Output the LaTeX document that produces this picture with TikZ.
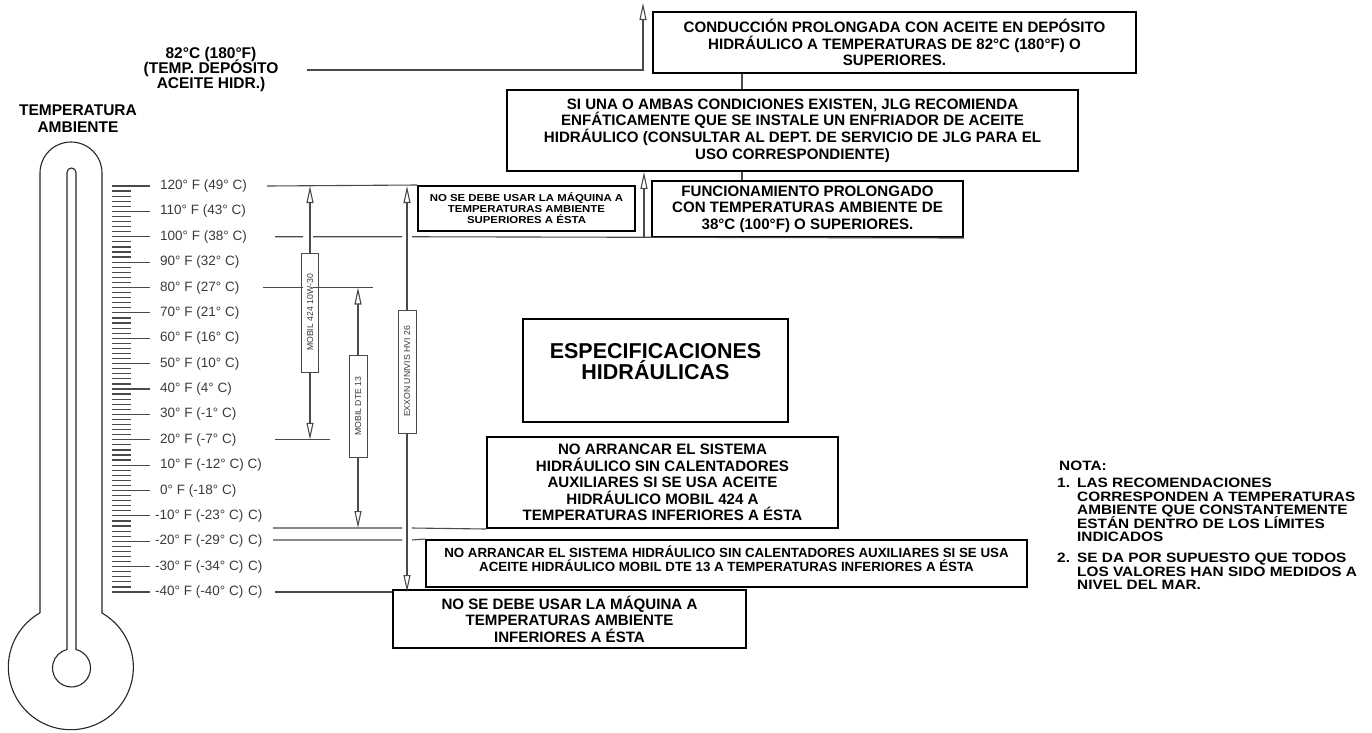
\documentclass[tikz,border=0pt]{standalone}
\usepackage{fontspec}
\setmainfont{Liberation Sans}
\newfontfamily\hb{Liberation Sans Bold}
\newfontfamily\hbs[FakeStretch=1.13]{Liberation Sans Bold}
\newfontfamily\hr{Liberation Sans}
\usetikzlibrary{arrows.meta,calc}
\definecolor{ink}{HTML}{3A3A3A}
\definecolor{lin}{HTML}{4A4A4A}
\begin{document}
\lineskiplimit=-100pt
\begin{tikzpicture}[x=1pt,y=-1pt,
 box/.style={draw=black,line width=2pt,inner sep=0pt,align=center,font=\hb\fontsize{15.1}{16.6}\selectfont},
 thin/.style={draw=lin,line width=1.1pt},
 arr/.style={thin,-{Triangle[open,length=17pt,width=7pt]}},
 tick/.style={draw=lin,line width=1.2pt},
 tlab/.style={anchor=west,inner sep=0pt,text=ink,font=\hr\fontsize{13.5}{14}\selectfont},
 oil/.style={draw=lin,line width=1pt,fill=white,rotate=90,inner sep=0pt,font=\hr\fontsize{8.7}{9}\selectfont,text=ink},
 hd/.style={align=center,inner sep=0pt,font=\hb\fontsize{15.5}{15}\selectfont},
 nota/.style={inner sep=0pt,anchor=west,align=left,font=\hbs\fontsize{13.6}{13.4}\selectfont},
]
\useasboundingbox (0,0) rectangle (1372,732);

% ---------------- thermometer ----------------
\draw[line width=1.1pt,draw=black!85] (40,613) -- (40,173) arc (180:360:31) -- (102,613) arc (-60.1:240.1:62.5);
\draw[line width=1.1pt,draw=black!85] (67,649.5) -- (67,172.5) arc (180:360:4.5) -- (76,649.5) arc (-76.3:256.3:19);

\foreach \i in {0,...,80}{
  \pgfmathsetmacro\yy{186+\i*5.075}
  \pgfmathtruncatemacro\m{mod(\i,5)}
  \ifnum\m=0 \draw[tick] (112,\yy) -- (150,\yy); \else \draw[tick] (112,\yy) -- (131,\yy); \fi
}

\node[hd,font=\hb\fontsize{15.5}{16.7}\selectfont] (amb) at (78,119) {TEMPERATURA\\AMBIENTE};
\node[hd] (t82) at (211,69.5) {82°C (180°F)\\(TEMP. DEPÓSITO\\ACEITE HIDR.)};

\foreach \k/\t in {0/{120° F (49° C)},1/{110° F (43° C)},2/{100° F (38° C)},3/{90° F (32° C)},
  4/{80° F (27° C)},5/{70° F (21° C)},6/{60° F (16° C)},7/{50° F (10° C)},8/{40° F (4° C)},
  9/{30° F (-1° C)},10/{20° F (-7° C)},11/{10° F (-12° C) C)},12/{0° F (-18° C)}}{
  \node[tlab] (L\k) at (160,186+\k*25.375) {\t};
}
\foreach \k/\t in {13/{-10° F (-23° C)},14/{-20° F (-29° C)},15/{-30° F (-34° C)},16/{-40° F (-40° C)}}{
  \node[tlab] (L\k) at (155,186+\k*25.375) {\t};
  \node[tlab] (X\k) at (248,186+\k*25.375) {C)};
}

% ---------------- boxes ----------------
\node[box,minimum width=483,minimum height=61] (cond) at (894.5,42.5)
  {CONDUCCIÓN PROLONGADA CON ACEITE EN DEPÓSITO\\HIDRÁULICO A TEMPERATURAS DE 82°C (180°F) O\\SUPERIORES.};
\node[box,minimum width=571,minimum height=81] (siuna) at (792.5,130.5)
  {SI UNA O AMBAS CONDICIONES EXISTEN, JLG RECOMIENDA\\ENFÁTICAMENTE QUE SE INSTALE UN ENFRIADOR DE ACEITE\\HIDRÁULICO (CONSULTAR AL DEPT. DE SERVICIO DE JLG PARA EL\\USO CORRESPONDIENTE)};
\node[box,minimum width=311,minimum height=56] (fun) at (807.5,209)
  {FUNCIONAMIENTO PROLONGADO\\CON TEMPERATURAS AMBIENTE DE\\38°C (100°F) O SUPERIORES.};
\node[box,minimum width=217,minimum height=45,font=\hbs\fontsize{10.1}{11}\selectfont] (noseS) at (526.5,208.5)
  {NO SE DEBE USAR LA MÁQUINA A\\TEMPERATURAS AMBIENTE\\SUPERIORES A ÉSTA};
\node[box,minimum width=265,minimum height=103] (espec) at (655.5,370.5) {};
\node[align=center,inner sep=0pt,font=\hb\fontsize{21.5}{21}\selectfont] (espect) at (655.5,362) {ESPECIFICACIONES\\HIDRÁULICAS};
\node[box,minimum width=351,minimum height=91] (noarr) at (662.5,482.5)
  {NO ARRANCAR EL SISTEMA\\HIDRÁULICO SIN CALENTADORES\\AUXILIARES SI SE USA ACEITE\\HIDRÁULICO MOBIL 424 A\\TEMPERATURAS INFERIORES A ÉSTA};
\node[box,minimum width=601,minimum height=47,font=\hb\fontsize{13.3}{14}\selectfont] (dte) at (726.5,563.5)
  {NO ARRANCAR EL SISTEMA HIDRÁULICO SIN CALENTADORES AUXILIARES SI SE USA\\ACEITE HIDRÁULICO MOBIL DTE 13 A TEMPERATURAS INFERIORES A ÉSTA\\[-5pt]};
\node[box,minimum width=353,minimum height=58] (noseI) at (569.5,619)
  {NO SE DEBE USAR LA MÁQUINA A\\TEMPERATURAS AMBIENTE\\INFERIORES A ÉSTA};

% ---------------- oil labels ----------------
\node[oil,minimum width=119,minimum height=17] (oil1) at (310,312.5) {MOBIL 424 10W-30};
\node[oil,minimum width=102,minimum height=18] (oil2) at (358,406) {MOBIL DTE 13};
\node[oil,minimum width=123,minimum height=18] (oil3) at (407,371.5) {EXXON UNIVIS HVI 26};

% ---------------- coordinates ----------------
\coordinate (r120) at (267,186);
\coordinate (r100) at (275,236.75);
\coordinate (r80) at (263,287.5);
\coordinate (r20) at (275,439.75);
\coordinate (r15) at (273,528);
\coordinate (r20m) at (273,540);
\coordinate (r40) at (275,592);
\coordinate (a1t) at (310,186);   \coordinate (a1b) at (310,439.75);
\coordinate (a2t) at (358,287.5); \coordinate (a2b) at (358,528);
\coordinate (a3t) at (407,186);   \coordinate (a3b) at (407,592);
\coordinate (l82) at (307,70); \coordinate (k82) at (643,70); \coordinate (t82a) at (643,3);
\coordinate (u1) at (644,236.75);
\coordinate (cx) at (742,0);

% ---------------- lines ----------------
\draw[thin] (r120) -- (noseS.north west);
\draw[thin] (r100) -- (303,236.75) (313,236.75) -- (402,236.75) (412,236.75) -- (fun.south east);
\draw[thin] (r80) -- (303,287.5) (313,287.5) -- (373,287.5);
\draw[thin] (r20) -- (330,439.75);
\draw[thin] (r15) -- (402,528) (412,528) -- (noarr.south west);
\draw[thin] (r20m) -- (402,540) (412,540) -- (dte.north west);
\draw[thin] (r40) -- (r40 -| noseI.west);

\draw[arr] (l82) -- (k82) -- (t82a);
\draw[arr] (u1) -- (u1 |- siuna.south);
\draw[thin] (cx |- cond.south) -- (cx |- siuna.north);
\draw[thin] (cx |- siuna.south) -- (cx |- fun.north);

\draw[arr] (oil1) -- (a1t);
\draw[arr] (oil1) -- (a1b);
\draw[arr] (oil2) -- (a2t);
\draw[arr] (oil2) -- (a2b);
\draw[arr] (oil3) -- (a3t);
\draw[arr] (oil3) -- (a3b);

% ---------------- nota ----------------
\node[nota] (nt) at (1059,466) {NOTA:};
\node[nota] (n1) at (1057,483) {1.};
\node[nota] (n1t) at (1077,510) {LAS RECOMENDACIONES\\CORRESPONDEN A TEMPERATURAS\\AMBIENTE QUE CONSTANTEMENTE\\ESTÁN DENTRO DE LOS LÍMITES\\INDICADOS};
\node[nota] (n2) at (1057,557.5) {2.};
\node[nota] (n2t) at (1077,571.5) {SE DA POR SUPUESTO QUE TODOS\\LOS VALORES HAN SIDO MEDIDOS A\\NIVEL DEL MAR.};
\end{tikzpicture}
\end{document}
